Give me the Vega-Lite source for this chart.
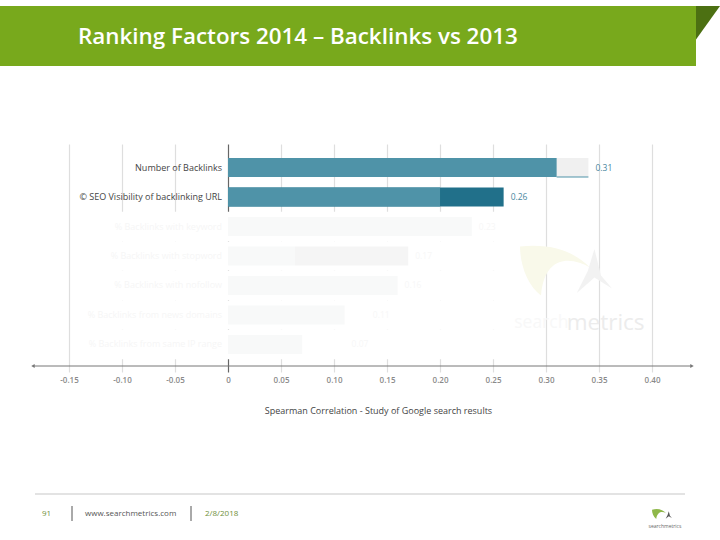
{
"$schema":"https://vega.github.io/schema/vega-lite/v6.json",
"padding":{"left":0,"top":6,"right":0,"bottom":0},
"background":"white",
"bounds":"flush",
"spacing":78,
"config":{"font":"Open Sans","view":{"stroke":null}},
"datasets":{
"bars":[
{"factor":"Number of Backlinks","segment":"2013","from":0,"to":0.34},
{"factor":"Number of Backlinks","segment":"overlap","from":0,"to":0.31},
{"factor":"© SEO Visibility of backlinking URL","segment":"gain","from":0,"to":0.26},
{"factor":"© SEO Visibility of backlinking URL","segment":"overlap","from":0,"to":0.20},
{"factor":"% Backlinks with keyword","segment":"faded","from":0,"to":0.23},
{"factor":"% Backlinks with stopword","segment":"faded","from":0,"to":0.063},
{"factor":"% Backlinks with stopword","segment":"fadedgain","from":0.063,"to":0.17},
{"factor":"% Backlinks with nofollow","segment":"faded","from":0,"to":0.16},
{"factor":"% Backlinks from news domains","segment":"faded","from":0,"to":0.11},
{"factor":"% Backlinks from same IP range","segment":"faded","from":0,"to":0.07}
],
"labels":[
{"factor":"Number of Backlinks","value":0.34,"text":"0.31","strength":"full"},
{"factor":"© SEO Visibility of backlinking URL","value":0.26,"text":"0.26","strength":"full"},
{"factor":"% Backlinks with keyword","value":0.23,"text":"0.23","strength":"faded"},
{"factor":"% Backlinks with stopword","value":0.17,"text":"0.17","strength":"faded"},
{"factor":"% Backlinks with nofollow","value":0.16,"text":"0.16","strength":"faded"},
{"factor":"% Backlinks from news domains","value":0.13,"text":"0.11","strength":"faded"},
{"factor":"% Backlinks from same IP range","value":0.11,"text":"0.07","strength":"faded"}
],
"factors":[
{"factor":"Number of Backlinks","strength":"full"},
{"factor":"© SEO Visibility of backlinking URL","strength":"full"},
{"factor":"% Backlinks with keyword","strength":"faded"},
{"factor":"% Backlinks with stopword","strength":"faded"},
{"factor":"% Backlinks with nofollow","strength":"faded"},
{"factor":"% Backlinks from news domains","strength":"faded"},
{"factor":"% Backlinks from same IP range","strength":"faded"}
]
},
"vconcat":[
{
"width":696,"height":60,
"view":{"fill":"#78a91c","stroke":null},
"data":{"values":[{"text":"Ranking Factors 2014 – Backlinks vs 2013"}]},
"layer":[
{"mark":{"type":"text","align":"left","baseline":"middle","color":"white","font":"Open Sans","fontSize":22.4,"fontWeight":600,"dy":1},
"encoding":{"x":{"value":78},"text":{"field":"text"}}},
{"mark":{"type":"point","filled":true,"color":"#4c7012","opacity":1,"size":2304,"shape":"M0,0L1,0L0,1.4Z","clip":false},
"encoding":{"x":{"value":"width"},"y":{"value":0}}}
]
},
{
"width":692,"height":228,
"encoding":{"y":{"field":"factor","type":"nominal","axis":null,"sort":null,
"scale":{"domain":["Number of Backlinks","© SEO Visibility of backlinking URL","% Backlinks with keyword","% Backlinks with stopword","% Backlinks with nofollow","% Backlinks from news domains","% Backlinks from same IP range"],"paddingInner":0.356,"paddingOuter":0.5425,"align":0.4375}}},
"layer":[
{"data":{"name":"factors"},"transform":[{"filter":"datum.strength=='faded'"}],
"mark":{"type":"bar","color":"white","height":{"band":1.56}},
"encoding":{"x":{"datum":-0.125,"type":"quantitative","scale":{"domain":[-0.2151,0.4377],"nice":false,"zero":false},
"axis":{"values":[-0.15,-0.10,-0.05,0,0.05,0.10,0.15,0.20,0.25,0.30,0.35,0.40],"grid":true,"gridWidth":1.2,
"gridColor":{"condition":{"test":"datum.value===0","value":"#666666"},"value":"#dedede"},
"domain":false,"ticks":false,"labelExpr":"datum.value===0?'0':(datum.value<0?'-':'')+format(abs(datum.value),'.2f')","labelColor":"#8a8a8a","labelFontSize":8,"labelFontWeight":600,"labelPadding":4,
"title":"Spearman Correlation - Study of Google search results","titleFontSize":9,"titleFontWeight":"normal","titleColor":"#444444","titleX":378,"titleY":34}},
"x2":{"datum":0.285}}},
{"data":{"name":"bars"},"mark":{"type":"bar","height":{"band":1}},
"encoding":{"x":{"field":"from","type":"quantitative"},"x2":{"field":"to"},
"color":{"field":"segment","type":"nominal","legend":null,"scale":{"domain":["2013","overlap","gain","faded","fadedgain"],"range":["#f0f0f0","#4f93a8","#21708a","#f8f9f9","#f5f5f5"]}}}},
{"data":{"values":[{"factor":"Number of Backlinks"}]},"mark":{"type":"rule","color":"#4f93a8","strokeWidth":1},
"encoding":{"y":{"field":"factor","type":"nominal","bandPosition":1},"x":{"datum":0.31},"x2":{"datum":0.34}}},
{"data":{"values":[{"from":-0.184,"to":0.4377}]},"mark":{"type":"rule","color":"#777777","strokeWidth":1},
"encoding":{"x":{"field":"from","type":"quantitative"},"x2":{"field":"to"},"y":{"value":222}}},
{"data":{"values":[{"end":-0.184,"arrow":"left"},{"end":0.4377,"arrow":"right"}]},"mark":{"type":"point","filled":true,"color":"#777777","opacity":1,"size":16},
"encoding":{"x":{"field":"end","type":"quantitative"},"y":{"value":222},"shape":{"field":"arrow","type":"nominal","legend":null,"scale":{"domain":["left","right"],"range":["triangle-left","triangle-right"]}}}},
{"data":{"name":"factors"},"mark":{"type":"text","align":"right","baseline":"middle","dx":-6,"fontSize":9},
"encoding":{"x":{"datum":0},"text":{"field":"factor"},
"color":{"field":"strength","type":"nominal","legend":null,"scale":{"domain":["full","faded"],"range":["#444444","#f6f6f6"]}}}},
{"data":{"name":"labels"},"mark":{"type":"text","align":"left","baseline":"middle","dx":7,"fontSize":8.5},
"encoding":{"x":{"field":"value","type":"quantitative"},"text":{"field":"text"},
"color":{"field":"strength","type":"nominal","legend":null,"scale":{"domain":["full","faded"],"range":["#4a87a0","#f7f7f7"]}}}},
{"data":{"values":[{"factor":"% Backlinks from news domains","word":"search","start":0.27,"tone":"a"},{"factor":"% Backlinks from news domains","word":"metrics","start":0.3195,"tone":"b"}]},
"mark":{"type":"text","align":"left","baseline":"middle","dy":8},
"encoding":{"x":{"field":"start","type":"quantitative"},"text":{"field":"word"},
"size":{"field":"tone","type":"nominal","legend":null,"scale":{"domain":["a","b"],"range":[17.5,22.5]}},
"color":{"field":"tone","type":"nominal","legend":null,"scale":{"domain":["a","b"],"range":["#f8f8f8","#ececec"]}}}},
{"data":{"values":[{"factor":"% Backlinks with stopword","at":0.3085}]},
"mark":{"type":"point","filled":true,"opacity":1,"size":4900,"color":"#f9f9ea","shape":"M-1,-0.7C0,-0.8 0.6,-0.5 1,-0.1C0.5,-0.4 -0.3,-0.5 -0.4,0.7C-0.8,0.4 -1,-0.2 -1,-0.7Z"},
"encoding":{"x":{"field":"at","type":"quantitative"},"y":{"field":"factor","type":"nominal","bandPosition":1.29}}},
{"data":{"values":[{"factor":"% Backlinks with stopword","at":0.3415}]},
"mark":{"type":"point","filled":true,"opacity":1,"size":1936,"color":"#f2f2f2","shape":"M0.2,-1L0.5,0.2L1,0.8L0.2,0.3L-0.6,1L-0.1,0Z"},
"encoding":{"x":{"field":"at","type":"quantitative"},"y":{"field":"factor","type":"nominal","bandPosition":1.29}}}
],
"resolve":{"scale":{"color":"independent","shape":"independent","size":"independent"}}
},
{
"width":720,"height":90,
"layer":[
{"data":{"values":[{"part":"footer rule"}]},"mark":{"type":"rule","color":"#c8c8c8","strokeWidth":1.2},
"encoding":{"x":{"value":35},"x2":{"value":685},"y":{"value":44}}},
{"data":{"values":[{"part":"separator"}]},"mark":{"type":"rule","color":"#555555","strokeWidth":1},
"encoding":{"x":{"value":72},"y":{"value":56},"y2":{"value":71}}},
{"data":{"values":[{"part":"separator"}]},"mark":{"type":"rule","color":"#555555","strokeWidth":1},
"encoding":{"x":{"value":191},"y":{"value":56},"y2":{"value":71}}},
{"data":{"values":[{"text":"91"}]},"mark":{"type":"text","align":"left","baseline":"middle","fontSize":8,"color":"#6f8f3a"},
"encoding":{"x":{"value":42},"y":{"value":63.5},"text":{"field":"text"}}},
{"data":{"values":[{"text":"www.searchmetrics.com"}]},"mark":{"type":"text","align":"left","baseline":"middle","fontSize":8,"color":"#555555"},
"encoding":{"x":{"value":85},"y":{"value":63.5},"text":{"field":"text"}}},
{"data":{"values":[{"text":"2/8/2018"}]},"mark":{"type":"text","align":"left","baseline":"middle","fontSize":8,"color":"#6f8f3a"},
"encoding":{"x":{"value":205},"y":{"value":63.5},"text":{"field":"text"}}},
{"data":{"values":[{"text":"searchmetrics"}]},"mark":{"type":"text","align":"center","baseline":"middle","fontSize":5,"color":"#666666"},
"encoding":{"x":{"value":665},"y":{"value":76},"text":{"field":"text"}}},
{"data":{"values":[{"part":"logo"}]},"mark":{"type":"point","filled":true,"color":"#8fb84a","opacity":1,"size":196,"shape":"M-1,-0.6C-0.2,-0.9 0.6,-0.6 1,-0.1C0.5,-0.4 -0.2,-0.4 -0.4,0.7C-0.8,0.4 -1,-0.1 -1,-0.6Z"},
"encoding":{"x":{"value":659},"y":{"value":64}}},
{"data":{"values":[{"part":"logo blade"}]},"mark":{"type":"point","filled":true,"color":"#555555","opacity":1,"size":60,"shape":"M0.2,-1L0.5,0.2L1,0.8L0.2,0.3L-0.6,1L-0.1,0Z"},
"encoding":{"x":{"value":668},"y":{"value":65}}}
]
}
]
}
